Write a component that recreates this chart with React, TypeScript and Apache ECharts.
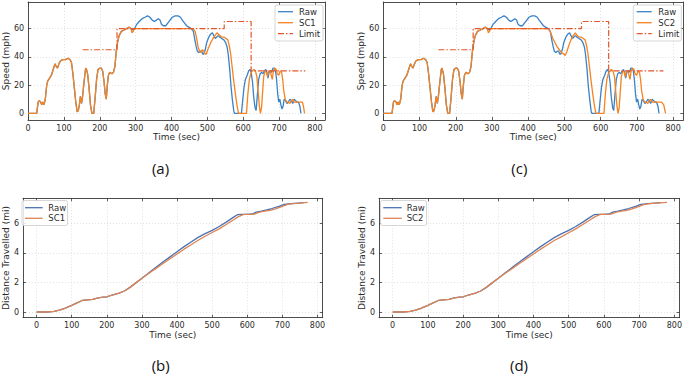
import React, { useEffect, useRef } from 'react';
import * as echarts from 'echarts';

type Pt = [number, number];

const timeTicks = [0, 100, 200, 300, 400, 500, 600, 700, 800];
const speedTicks = [0, 20, 40, 60];
const distTicks = [0, 2, 4, 6];

// shared launch phase (Raw and SC overlap here)
const launchSpeed: Pt[] = [
  [0, 0], [24, 0], [28, 8], [31, 9], [35, 8], [38, 6], [41, 8], [44, 6], [48, 10], [52, 20], [55, 23],
  [60, 25], [65, 27], [70, 31], [75, 35], [79, 33], [82, 32], [86, 35], [90, 37], [96, 38], [104, 38],
  [112, 39], [117, 38], [121, 36], [125, 28], [129, 18], [133, 8], [137, 1], [140, 2], [143, 6], [146, 12],
  [149, 7], [152, 12], [156, 22], [160, 31], [162, 32], [166, 28], [170, 18], [174, 6], [178, 0], [183, 0],
  [187, 11], [191, 24], [195, 31], [200, 32], [204, 32], [208, 30], [212, 22], [215, 14], [218, 10],
  [221, 20], [224, 27], [228, 29], [234, 28], [238, 29], [242, 33], [246, 44], [250, 51], [254, 55],
  [260, 58], [268, 59], [275, 60], [282, 61],
];

const rawSpeedTail: Pt[] = [
  [287, 60], [292, 59], [297, 60], [303, 63], [310, 65], [318, 67], [326, 68], [333, 69], [340, 68],
  [346, 66], [352, 65], [358, 66], [363, 67], [368, 66], [372, 63], [377, 62], [384, 62], [390, 64],
  [396, 66], [402, 68], [410, 69], [418, 69], [425, 68], [430, 66], [436, 64], [442, 62], [448, 61],
  [455, 60], [461, 58], [465, 52], [469, 47], [472, 44], [476, 43], [480, 44], [484, 44], [487, 42],
  [490, 42], [494, 45], [498, 50], [504, 54], [509, 56], [514, 57], [518, 55], [522, 53], [526, 54],
  [530, 55], [534, 54], [540, 53], [546, 52], [551, 50], [555, 47], [558, 42], [562, 32], [566, 19],
  [570, 9], [574, 1], [576, 0], [595, 0], [598, 8], [602, 18], [606, 24], [611, 27], [615, 30], [619, 31],
  [622, 29], [626, 22], [629, 12], [633, 4], [636, 2], [639, 12], [643, 24], [647, 28], [651, 29],
  [655, 28], [659, 30], [663, 31], [666, 29], [669, 25], [672, 29], [676, 30], [679, 29], [683, 32],
  [687, 32], [690, 30], [693, 24], [696, 14], [699, 8], [702, 10], [705, 6], [708, 3], [711, 5],
  [714, 10], [718, 9], [722, 7], [726, 8], [730, 10], [734, 9], [738, 7], [742, 10], [746, 9],
  [750, 8], [754, 8], [758, 5], [761, 0],
];

const sc1SpeedTail: Pt[] = [
  [287, 60], [290, 57], [293, 58], [297, 60], [305, 60], [460, 60], [466, 58], [470, 53], [474, 47],
  [478, 44], [482, 43], [486, 45], [490, 44], [494, 42], [497, 42], [501, 45], [506, 48], [511, 51],
  [516, 53], [521, 55], [527, 57], [531, 56], [535, 55], [540, 54], [546, 54], [552, 53], [557, 52],
  [561, 48], [565, 42], [569, 33], [573, 24], [578, 14], [583, 5], [587, 0], [609, 0], [613, 14],
  [617, 24], [621, 28], [625, 30], [630, 31], [634, 30], [638, 26], [642, 14], [645, 5], [648, 0],
  [651, 4], [654, 15], [657, 26], [661, 30], [665, 29], [668, 26], [671, 30], [675, 30], [678, 27],
  [681, 24], [684, 30], [688, 32], [692, 31], [695, 28], [699, 27], [703, 30], [707, 29], [710, 24],
  [713, 16], [717, 10], [721, 8], [725, 8], [730, 7], [734, 9], [738, 10], [742, 8], [748, 8],
  [754, 8], [760, 8], [765, 8], [768, 5], [771, 0],
];

const sc2SpeedTail: Pt[] = [
  [287, 60], [290, 57], [293, 58], [297, 60], [305, 60], [456, 60], [462, 57], [468, 53], [474, 50],
  [480, 47], [486, 45], [492, 43], [498, 42], [502, 41], [507, 44], [512, 48], [518, 52], [524, 55],
  [530, 57], [535, 55], [540, 54], [546, 54], [552, 53], [557, 52], [561, 48], [565, 42], [569, 33],
  [573, 24], [578, 14], [583, 5], [587, 0], [609, 0], [613, 14], [617, 24], [621, 28], [625, 30],
  [630, 31], [634, 30], [638, 26], [642, 14], [645, 5], [648, 0], [651, 4], [654, 15], [657, 26],
  [661, 30], [665, 29], [668, 26], [671, 30], [675, 30], [678, 27], [681, 24], [684, 30], [688, 32],
  [692, 31], [695, 28], [699, 27], [703, 30], [707, 29], [710, 24], [713, 16], [717, 10], [721, 8],
  [725, 8], [730, 7], [734, 9], [738, 10], [742, 8], [748, 8], [754, 8], [760, 8], [768, 8], [774, 6],
  [779, 0],
];

const speedLimit: Pt[] = [
  [152, 45], [248, 45], [248, 60], [547, 60], [547, 65], [622, 65], [622, 30], [773, 30],
];

const launchDistance: Pt[] = [
  [0, 0], [30, 0], [50, 0.04], [65, 0.12], [80, 0.25], [100, 0.45], [115, 0.62], [130, 0.78],
  [145, 0.82], [160, 0.85], [175, 0.95], [190, 1.0], [200, 1.02], [215, 1.15], [235, 1.28],
  [250, 1.42], [265, 1.65], [280, 1.92], [300, 2.28],
];

const rawDistanceTail: Pt[] = [
  [320, 2.65], [340, 3.02], [360, 3.38], [380, 3.73], [400, 4.08], [420, 4.42], [440, 4.74],
  [460, 5.05], [480, 5.3], [500, 5.52], [520, 5.78], [540, 6.08], [560, 6.4], [572, 6.58],
  [585, 6.6], [600, 6.6], [615, 6.63], [625, 6.75], [640, 6.82], [655, 6.9], [670, 7.0],
  [690, 7.15], [705, 7.28], [725, 7.33], [745, 7.37], [761, 7.4],
];

const sc1DistanceTail: Pt[] = [
  [320, 2.62], [340, 2.95], [360, 3.28], [380, 3.6], [400, 3.92], [420, 4.25], [440, 4.55],
  [460, 4.85], [480, 5.12], [500, 5.38], [520, 5.62], [540, 5.92], [560, 6.22], [575, 6.45],
  [590, 6.6], [600, 6.6], [620, 6.62], [635, 6.75], [650, 6.82], [665, 6.88], [680, 6.98],
  [700, 7.15], [715, 7.28], [730, 7.33], [750, 7.37], [772, 7.42],
];

const sc2DistanceTail: Pt[] = [
  [320, 2.62], [340, 2.95], [360, 3.28], [380, 3.6], [400, 3.92], [420, 4.25], [440, 4.55],
  [460, 4.85], [480, 5.1], [500, 5.36], [520, 5.62], [540, 5.92], [560, 6.22], [575, 6.45],
  [590, 6.6], [600, 6.6], [620, 6.62], [635, 6.75], [650, 6.82], [665, 6.88], [680, 6.98],
  [700, 7.15], [715, 7.28], [730, 7.33], [750, 7.37], [779, 7.42],
];

const FONT = 'DejaVu Sans';
const TXT = '#2b2b2b';
const AX = '#3a3a3a';

export default function App() {
  const ref = useRef<HTMLDivElement>(null);
  useEffect(() => {
    document.body.style.margin = '0';
    if (!ref.current) return;
    const chart = echarts.init(ref.current, undefined, { renderer: 'svg' });

    const grids = [
      { left: 24.5, top: 2, width: 300.5, height: 118 },
      { left: 383.3, top: 2, width: 300, height: 118 },
      { left: 20.7, top: 198.3, width: 302, height: 119.4 },
      { left: 379, top: 198.3, width: 302.7, height: 119.4 },
    ];
    const xr = [[0, 828], [0, 828], [-38.8, 814.8], [-38.8, 814.8]];
    const yr = [[-4.7, 78.8], [-4.7, 78.8], [-0.385, 7.69], [-0.385, 7.69]];
    const yt = [speedTicks, speedTicks, distTicks, distTicks];
    const yName = ['Speed (mph)', 'Speed (mph)', 'Distance Travelled (mi)', 'Distance Travelled (mi)'];
    const yGap = [13.5, 13.5, 10.5, 10.5];
    const xGap = [11.5, 11.5, 10, 10];

    const xAxis: any[] = [];
    const yAxis: any[] = [];
    grids.forEach((_, g) => {
      const tick = (vals: number[]) => ({ inside: true, length: 3, lineStyle: { color: AX, width: 0.8 }, customValues: vals });
      const line = { show: true, onZero: false, lineStyle: { color: AX, width: 0.9 } };
      const split = { show: true, lineStyle: { color: '#d5d5d5', width: 0.7, type: [1, 2] } };
      xAxis.push({
        type: 'value', gridIndex: g, min: xr[g][0], max: xr[g][1], position: 'bottom',
        axisLine: line, axisTick: tick(timeTicks), splitLine: split,
        axisLabel: { customValues: timeTicks, fontSize: 8, color: TXT, margin: 4, fontFamily: FONT },
        name: 'Time (sec)', nameLocation: 'middle', nameGap: xGap[g],
        nameTextStyle: { fontSize: 9, color: TXT, fontFamily: FONT },
      });
      xAxis.push({
        type: 'value', gridIndex: g, min: xr[g][0], max: xr[g][1], position: 'top',
        axisLine: line, axisTick: tick(timeTicks), splitLine: { show: false },
        axisLabel: { show: false },
      });
      yAxis.push({
        type: 'value', gridIndex: g, min: yr[g][0], max: yr[g][1], position: 'left',
        axisLine: line, axisTick: tick(yt[g]), splitLine: split,
        axisLabel: { customValues: yt[g], fontSize: 8, color: TXT, margin: 4, fontFamily: FONT },
        name: yName[g], nameLocation: 'middle', nameGap: yGap[g],
        nameTextStyle: { fontSize: 9, color: TXT, fontFamily: FONT },
      });
      yAxis.push({
        type: 'value', gridIndex: g, min: yr[g][0], max: yr[g][1], position: 'right',
        axisLine: line, axisTick: tick(yt[g]), splitLine: { show: false },
        axisLabel: { show: false },
      });
    });

    const speedBlue = '#3a82c6';
    const speedOrange = '#f7821e';
    const limitRed = '#e4552b';
    const distBlue = '#4c72b0';
    const distOrange = '#dd8452';

    const ln = (name: string, g: number, data: Pt[], color: string, width = 1.3, type: any = 'solid', z = 2) => ({
      type: 'line', name, xAxisIndex: 2 * g, yAxisIndex: 2 * g, data, showSymbol: false, symbol: 'none',
      lineStyle: { color, width, type }, itemStyle: { color }, z, clip: true,
    });

    const rawSpeed = [...launchSpeed, ...rawSpeedTail];
    const sc1Speed = [...launchSpeed, ...sc1SpeedTail];
    const sc2Speed = [...launchSpeed, ...sc2SpeedTail];
    const rawDistance = [...launchDistance, ...rawDistanceTail];
    const sc1Distance = [...launchDistance, ...sc1DistanceTail];
    const sc2Distance = [...launchDistance, ...sc2DistanceTail];

    const dashDot = [6, 2, 1.5, 2];
    const series = [
      ln('Raw (a)', 0, rawSpeed, speedBlue),
      ln('SC1 (a)', 0, sc1Speed, speedOrange, 1.3, 'solid', 3),
      ln('Limit (a)', 0, speedLimit, limitRed, 1.2, dashDot, 4),
      ln('Raw (c)', 1, rawSpeed, speedBlue),
      ln('SC2 (c)', 1, sc2Speed, speedOrange, 1.3, 'solid', 3),
      ln('Limit (c)', 1, speedLimit, limitRed, 1.2, dashDot, 4),
      ln('Raw (b)', 2, rawDistance, distBlue),
      ln('SC1 (b)', 2, sc1Distance, distOrange, 1.3, 'solid', 3),
      ln('Raw (d)', 3, rawDistance, distBlue),
      ln('SC2 (d)', 3, sc2Distance, distOrange, 1.3, 'solid', 3),
    ];

    const legendBox = (x: number, y: number, w: number, h: number, items: { label: string; color: string; dash?: number[]; ly: number }[], lx0: number, lx1: number, tx: number) => {
      const children: any[] = [
        { type: 'rect', shape: { x, y, width: w, height: h, r: 2 }, style: { fill: 'rgba(255,255,255,0.85)', stroke: '#cccccc', lineWidth: 0.8 }, z: 10 },
      ];
      items.forEach((it) => {
        children.push({ type: 'line', shape: { x1: lx0, y1: it.ly, x2: lx1, y2: it.ly }, style: { stroke: it.color, lineWidth: 1.3, lineDash: it.dash || null }, z: 11 });
        children.push({ type: 'text', x: tx, y: it.ly, style: { text: it.label, fill: TXT, font: `8.5px "${FONT}"`, textVerticalAlign: 'middle', verticalAlign: 'middle' }, z: 11 });
      });
      return { type: 'group', children };
    };

    const graphic: any[] = [
      legendBox(275, 5, 48, 36, [
        { label: 'Raw', color: speedBlue, ly: 11.7 },
        { label: 'SC1', color: speedOrange, ly: 22.7 },
        { label: 'Limit', color: limitRed, dash: dashDot, ly: 33.7 },
      ], 278, 293, 299),
      legendBox(633.3, 5, 48, 36, [
        { label: 'Raw', color: speedBlue, ly: 11.7 },
        { label: 'SC2', color: speedOrange, ly: 22.7 },
        { label: 'Limit', color: limitRed, dash: dashDot, ly: 33.7 },
      ], 636.7, 651.7, 658.3),
      legendBox(22, 200.5, 45.5, 25, [
        { label: 'Raw', color: distBlue, ly: 207.7 },
        { label: 'SC1', color: distOrange, ly: 218.3 },
      ], 25, 42.7, 48.3),
      legendBox(380.5, 200.5, 46, 25, [
        { label: 'Raw', color: distBlue, ly: 207.7 },
        { label: 'SC2', color: distOrange, ly: 218.3 },
      ], 383.3, 401.7, 406.7),
      ...[
        ['(a)', 160.5, 168], ['(c)', 519.3, 168], ['(b)', 160.7, 365], ['(d)', 519, 365],
      ].map(([t, x, y]) => ({
        type: 'text', x: x as number, y: y as number,
        style: { text: t as string, fill: '#111', font: '15px "Open Sans"', textAlign: 'center', textVerticalAlign: 'middle', align: 'center', verticalAlign: 'middle' },
      })),
    ];

    chart.setOption({
      animation: false,
      backgroundColor: '#ffffff',
      grid: grids.map((g) => ({ ...g, containLabel: false })),
      xAxis,
      yAxis,
      series,
      graphic,
    });
    return () => chart.dispose();
  }, []);
  return <div ref={ref} style={{ width: 685, height: 374 }} />;
}
